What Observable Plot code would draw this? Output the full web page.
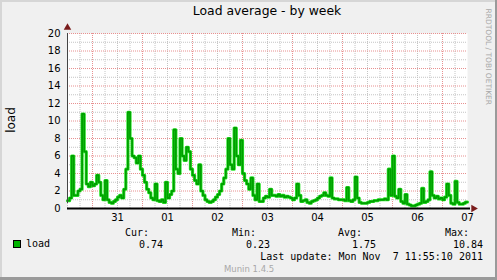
<!DOCTYPE html>
<html>
<head>
<meta charset="utf-8">
<script src="https://cdn.jsdelivr.net/npm/d3@7"></script>
<script src="https://cdn.jsdelivr.net/npm/@observablehq/plot@0.6"></script>
<style>
  html, body { margin: 0; padding: 0; background: #fff; }
  #chart {
    position: relative; width: 497px; height: 280px;
    background: #f0f0f0; overflow: hidden;
  }
  #chart svg { position: absolute; left: 0; top: 0; }
  .edge { position: absolute; }
  .t { position: absolute; white-space: pre; line-height: 1; }
  .sans { font-family: "DejaVu Sans", sans-serif; }
  .mono { font-family: "DejaVu Sans Mono", monospace; font-size: 10px; color: #000; }
</style>
</head>
<body>
<div id="chart"></div>
<script>
// ---- data ----
const chartTitle = "Load average - by week";
const yLabel = "load";
const seriesName = "load";
// hourly load values, starting Oct 30 2011 12:00
const loadValues = [
  0.9, 1.2, 6.0, 1.5, 1.5, 2.0, 2.2, 10.8, 6.5, 2.8, 2.5, 3.0,
  2.6, 2.8, 3.8, 3.0, 1.5, 1.0, 3.2, 1.0, 0.7, 0.6, 0.8, 1.0,
  1.3, 1.5, 1.2, 2.2, 4.5, 11.0, 8.0, 6.0, 5.8, 5.2, 6.0, 4.5,
  3.8, 3.0, 2.2, 1.8, 1.2, 1.0, 2.8, 0.9, 0.8, 1.0, 0.7, 3.0,
  1.2, 1.6, 2.0, 9.0, 4.5, 4.0, 8.0, 6.0, 5.5, 7.0, 6.5, 4.5,
  3.8, 3.2, 2.8, 5.0, 2.0, 1.5, 1.0, 0.8, 0.7, 0.8, 1.0, 1.3,
  1.6, 2.0, 2.8, 3.5, 4.5, 8.0, 5.0, 4.5, 9.2, 6.0, 5.0, 7.8,
  4.0, 3.2, 2.8, 2.2, 3.5, 1.5, 1.0, 2.8, 0.8, 0.8, 1.2, 1.4,
  1.3, 2.2, 1.5, 1.5, 1.4, 1.6, 1.4, 1.5, 1.3, 1.4, 1.3, 1.2,
  1.0, 1.2, 2.8, 1.5, 0.8, 0.9, 1.0, 0.7, 0.6, 0.8, 0.9, 1.0,
  1.2, 1.4, 1.5, 1.8, 1.5, 1.4, 3.5, 1.2, 1.1, 1.1, 1.0, 1.0,
  1.0, 0.9, 2.4, 0.9, 0.8, 1.0, 3.6, 1.2, 0.7, 0.6, 0.6, 0.6,
  0.7, 0.8, 0.8, 0.9, 0.9, 1.0, 1.0, 1.0, 1.1, 1.0, 4.5, 1.5,
  6.0, 1.4, 1.2, 2.2, 0.8, 0.6, 1.6, 0.5, 0.4, 0.3, 0.3, 0.4,
  0.5, 0.6, 2.3, 0.7, 0.8, 1.0, 4.2, 1.5, 1.2, 1.4, 1.1, 1.2,
  1.0, 1.3, 2.8, 1.5, 0.6, 0.5, 3.1, 0.7, 0.5, 0.5, 0.6, 0.74
];
const dayLabels = ["31", "01", "02", "03", "04", "05", "06", "07"];
const yTicks = [0, 2, 4, 6, 8, 10, 12, 14, 16, 18, 20];
const statNames = ["Cur:", "Min:", "Avg:", "Max:"];
const statValues = ["0.74", "0.23", "1.75", "10.84"];
const lastUpdate = "Last update: Mon Nov  7 11:55:10 2011";
const watermark = "RRDTOOL / TOBI OETIKER";
const version = "Munin 1.4.5";

// ---- build ----
const HOUR = 3600 * 1000;
const start = new Date(Date.UTC(2011, 9, 30, 12, 0, 0));
const end = new Date(start.getTime() + 192 * HOUR);
const data = loadValues.map((v, i) => ({t: new Date(start.getTime() + i * HOUR), v}));
data.push({t: end, v: loadValues[loadValues.length - 1]});

const noonTicks = d3.range(8).map(i => new Date(Date.UTC(2011, 9, 31 + i, 12)));
const labelOf = new Map(noonTicks.map((d, i) => [+d, dayLabels[i]]));
const majorX = d3.range(8).map(i => new Date(Date.UTC(2011, 9, 31 + i, 0)));
const minorX = d3.utcHours(start, end, 6).filter(d => d.getUTCHours() !== 0);
const majorY = yTicks;
const minorY = d3.range(1, 20, 2);

const chart = document.getElementById("chart");
function edge(style) {
  const e = document.createElement("div");
  e.className = "edge";
  Object.assign(e.style, style);
  chart.appendChild(e);
}
edge({left: "0px", top: "0px", width: "497px", height: "2px", background: "#d6d6d6"});
edge({left: "0px", top: "0px", width: "2px", height: "280px", background: "#d6d6d6"});
edge({left: "495px", top: "0px", width: "2px", height: "280px", background: "#9a9a9a"});
edge({left: "0px", top: "277px", width: "497px", height: "3px", background: "#9a9a9a"});

const svg = Plot.plot({
  width: 497, height: 280,
  marginLeft: 67, marginRight: 30, marginTop: 33, marginBottom: 72,
  style: {background: "transparent", fontFamily: "DejaVu Sans", fontSize: "10px", color: "#000"},
  x: {type: "utc", domain: [start, end], ticks: noonTicks, tickFormat: d => labelOf.get(+d),
      tickSize: 0, tickPadding: 5, label: null},
  y: {domain: [0, 20], ticks: yTicks, tickSize: 0, tickPadding: 7, label: null},
  marks: [
    Plot.frame({fill: "white", stroke: "none"}),
    Plot.ruleY(minorY, {stroke: "#c4c4c4", strokeDasharray: "1,1"}),
    Plot.ruleX(minorX, {stroke: "#c4c4c4", strokeDasharray: "1,1"}),
    Plot.ruleY(majorY, {stroke: "#e89090", strokeDasharray: "1,1"}),
    Plot.ruleX(majorX, {stroke: "#e89090", strokeDasharray: "1,1"}),
    Plot.line(data, {x: "t", y: "v", curve: "step-after", stroke: "#2ee82e", strokeWidth: 3.2}),
    Plot.line(data, {x: "t", y: "v", curve: "step-after", stroke: "#00a000", strokeWidth: 1.8}),
    Plot.ruleX([start], {y1: 0, y2: 20, insetTop: -5, stroke: "#444", strokeWidth: 1}),
    Plot.ruleY([0], {stroke: "#000", strokeWidth: 2, insetRight: -3}),
    Plot.dot([end], {x: d => d, y: 0, dx: 6, symbol: "triangle", rotate: 90, r: 2.8, fill: "#7a1c1c", stroke: "none"}),
    Plot.dot([20], {x: start, y: d => d, dy: -6, symbol: "triangle", r: 2.8, fill: "#7a1c1c", stroke: "none"})
  ]
});
chart.appendChild(svg);

function addText(cls, text, style) {
  const el = document.createElement("div");
  el.className = "t " + cls;
  el.textContent = text;
  Object.assign(el.style, style);
  chart.appendChild(el);
  return el;
}
// title (centred at x = 267)
addText("sans", chartTitle, {left: "167px", width: "200px", textAlign: "center", top: "5px", fontSize: "12.4px", color: "#000"});
// y label
addText("sans", yLabel, {left: "-9px", top: "114px", width: "40px", textAlign: "center", fontSize: "12px", transform: "rotate(-90deg)"});
// watermark
addText("sans", watermark, {left: "436px", top: "53px", width: "104px", textAlign: "center", fontSize: "7.5px", color: "#a8a8a8", transform: "rotate(90deg)"});
// legend swatch
const sw = document.createElement("div");
Object.assign(sw.style, {position: "absolute", left: "13px", top: "240px", width: "6px", height: "6px", background: "#00b400", border: "1px solid #000"});
chart.appendChild(sw);
addText("mono", seriesName, {left: "26px", top: "239px"});
const valueRight = [163, 270, 376, 483];
statNames.forEach((name, i) => {
  addText("mono", name, {right: (497 - valueRight[i] + 14) + "px", top: "228px"});
  addText("mono", statValues[i], {right: (497 - valueRight[i]) + "px", top: "240px"});
});
addText("mono", lastUpdate, {right: (497 - 483) + "px", top: "252px"});
addText("sans", version, {left: "224px", top: "265px", fontSize: "8.5px", color: "#a8a8a8"});
</script>
</body>
</html>
